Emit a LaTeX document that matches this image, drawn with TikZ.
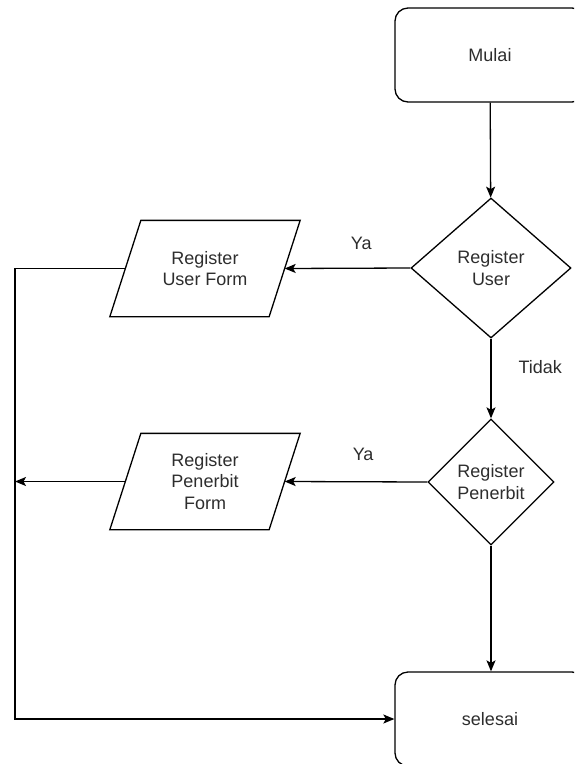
\documentclass[tikz,border=0pt]{standalone}
\usepackage{fontspec}
\setmainfont{Liberation Sans}
\usetikzlibrary{shapes.geometric,arrows.meta}
\definecolor{txt}{RGB}{45,45,45}
\begin{document}
\begin{tikzpicture}[x=1pt,y=-1pt,
  line width=1.3pt,
  every node/.style={font=\fontsize{18}{21.6}\selectfont, text=txt},
  terminal/.style={draw, rounded corners=13pt, minimum width=190pt,
    minimum height=94pt, inner sep=0pt, align=center},
  decision/.style={draw, diamond, inner sep=0pt, align=center},
  iobody/.style={minimum width=158pt, minimum height=95pt, inner sep=0pt, align=center},
  flow/.style={-{Stealth[length=11pt,width=9pt,inset=2.5pt]}},
  lbl/.style={inner sep=0pt}]
\useasboundingbox (0,0) rectangle (574,764);
\clip (0,0) rectangle (574,764);

% process steps
\node[terminal] (start) at (490,55) {Mulai};
\node[decision, minimum width=160pt, minimum height=140pt] (d1) at (491,268) {Register\\User};
\node[decision, minimum width=126pt, minimum height=126pt] (d2) at (491,482) {Register\\Penerbit};
\node[terminal] (end) at (490,719) {selesai};
\node[iobody] (p1) at (205,268.5) {Register\\User Form};
\node[iobody] (p2) at (205,481.5) {Register\\Penerbit\\Form};

% slanted outlines of the two input/output steps
\foreach \n in {p1,p2}
  \draw ([xshift=15.5pt]\n.north west) -- ([xshift=15.5pt]\n.north east)
     -- ([xshift=-15.5pt]\n.south east) -- ([xshift=-15.5pt]\n.south west) -- cycle;

% left return line
\coordinate (railtop) at (15,268.5);

% connectors
\draw[flow] (start) -- (d1);
\draw[flow] (d1) -- node[lbl, pos=0.36, anchor=west, xshift=27pt] {Tidak} (d2);
\draw[flow] (d2) -- (d2.south |- end.north);
\draw[flow] (d1.west) -- node[lbl, pos=0.39, yshift=25pt] {Ya} (p1.east);
\draw[flow] (d2.west) -- node[lbl, pos=0.45, yshift=27pt] {Ya} (p2.east);
\draw[flow] (p1.west) -- (railtop) |- (end);
\draw[flow] (p2.west) -- (p2.west -| railtop);
\end{tikzpicture}
\end{document}
